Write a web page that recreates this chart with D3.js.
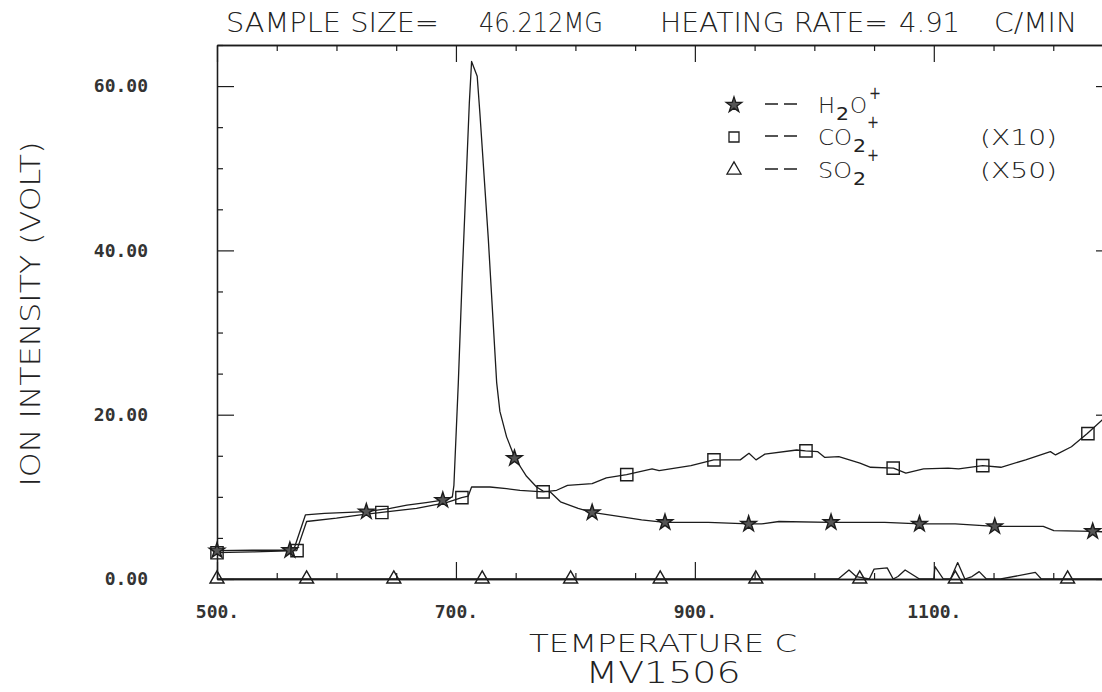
<!DOCTYPE html>
<html><head><meta charset="utf-8">
<script src="https://cdn.jsdelivr.net/npm/d3@7/dist/d3.min.js"></script>
<style>
body{margin:0;background:#fff;}
svg{display:block;background:#fff;}
</style></head><body>
<svg id="chart" width="1102" height="692"></svg>
<script>
// ---- data ----
const h2oTemp = [500,530,561,565,574,590,610,625,645,659,675,689,697,698.3,702,705.3,709,711.2,713.1,717.8,720.1,727.1,734.1,736.8,742.4,749.4,759.1,767.5,773,779,787.5,802.3,814,837.7,855.4,874.6,911.4,944.8,955.7,970.4,1013.7,1058.9,1088.4,1117.9,1151.2,1191.6,1200.5,1233,1250];
const h2oVal  = [3.45,3.5,3.5,3.9,7.8,8.0,8.1,8.2,8.6,9.0,9.3,9.6,10.0,11.4,23.9,37.0,50.1,57.9,63.0,61.2,56.6,41.4,23.9,20.4,17.3,14.7,12.5,11.2,10.7,10.6,9.4,8.6,8.1,7.6,7.2,6.9,6.9,6.7,6.7,7.0,6.9,6.9,6.7,6.7,6.4,6.4,5.9,5.8,5.7];

const co2Temp = [500,530,566.7,575,600,620,637.8,667,692,704.8,710.3,713.1,728.5,742.4,753.6,773.1,784.3,793.4,814,825.9,842.9,864.2,870.1,896.7,915.8,938,945.3,951.2,958.6,985.2,992.6,1002.9,1008.8,1020.5,1038.2,1047.1,1066.3,1076.6,1091.4,1112,1120.8,1140.9,1156.2,1176.9,1197.6,1201.9,1215.2,1228.5,1241.2,1250];
const co2Val  = [3.2,3.3,3.45,7.0,7.4,7.8,8.1,8.6,9.3,9.9,10.1,11.2,11.2,11.0,10.8,10.6,10.8,11.4,11.6,12.3,12.7,13.4,13.2,13.8,14.5,14.5,15.3,14.5,15.2,15.7,15.6,15.5,14.8,14.9,14.1,13.6,13.5,12.9,13.4,13.5,13.4,13.8,13.6,14.5,15.5,15.1,16.1,17.7,19.4,20.8];

const so2Temp = [500,1020,1029,1035,1046,1050,1061,1066,1070,1076,1088,1100,1101,1108,1114,1120,1126,1132,1138,1144,1156,1185,1190,1250];
const so2Val  = [0,0,1.1,0.3,0,1.2,1.35,0,0.3,1.1,0,0,1.5,0,0,2.0,0,0.3,0.9,0,0,0.8,0,0];

const h2oMarkTemp = [500,561,625,689,749,814,875,945,1014,1088,1151,1233];
const h2oMarkVal  = [3.45,3.5,8.2,9.6,14.7,8.1,6.9,6.7,6.9,6.7,6.4,5.8];
const co2MarkTemp = [500,567,638,705,773,843,916,993,1066,1141,1229];
const co2MarkVal  = [3.2,3.45,8.1,9.9,10.6,12.7,14.5,15.6,13.5,13.8,17.7];
const so2MarkTemp = [500,575,648,722,796,871,951,1038,1118,1212];
const so2MarkVal  = [0,0,0,0,0,0,0,0,0,0];

const xMajorTicks = [500,700,900,1100];
const xLabels = ["500.","700.","900.","1100."];
const yMajorTicks = [0,20,40,60];
const yLabels = ["0.00","20.00","40.00","60.00"];

// ---- layout ----
const ink = "#1c1c1c";
const thinFont = "'DejaVu Sans', 'DejaVu Sans Mono', sans-serif";
const svg = d3.select("#chart");
const x = d3.scaleLinear().domain([500,1250]).range([217,1113]);
const y = d3.scaleLinear().domain([0,65]).range([579,45]);
const xMinor = d3.range(500,1251,50).filter(v => !xMajorTicks.includes(v));
const yMinor = d3.range(0,66,5).filter(v => !yMajorTicks.includes(v));

function styleAxis(g){
  g.selectAll("path.domain").attr("stroke",ink).attr("stroke-width",1.3);
  g.selectAll(".tick line").attr("stroke",ink).attr("stroke-width",1.2);
}
svg.append("g").attr("transform",`translate(0,${y(0)})`)
  .call(d3.axisTop(x).tickValues(xMajorTicks).tickSize(17).tickFormat("").tickSizeOuter(0)).call(styleAxis);
svg.append("g").attr("transform",`translate(0,${y(0)})`)
  .call(d3.axisTop(x).tickValues(xMinor).tickSize(6).tickFormat("").tickSizeOuter(0)).call(styleAxis);
svg.append("g").attr("transform",`translate(0,${y(65)})`)
  .call(d3.axisBottom(x).tickValues(xMajorTicks).tickSize(17).tickFormat("").tickSizeOuter(0)).call(styleAxis);
svg.append("g").attr("transform",`translate(0,${y(65)})`)
  .call(d3.axisBottom(x).tickValues(xMinor).tickSize(6).tickFormat("").tickSizeOuter(0)).call(styleAxis);
svg.append("g").attr("transform",`translate(${x(500)},0)`)
  .call(d3.axisRight(y).tickValues(yMajorTicks).tickSize(17).tickFormat("").tickSizeOuter(0)).call(styleAxis);
svg.append("g").attr("transform",`translate(${x(500)},0)`)
  .call(d3.axisRight(y).tickValues(yMinor).tickSize(6).tickFormat("").tickSizeOuter(0)).call(styleAxis);
svg.append("g").attr("transform",`translate(${x(1250)},0)`)
  .call(d3.axisLeft(y).tickValues(yMajorTicks).tickSize(17).tickFormat("").tickSizeOuter(0)).call(styleAxis);
svg.append("g").attr("transform",`translate(${x(1250)},0)`)
  .call(d3.axisLeft(y).tickValues(yMinor).tickSize(6).tickFormat("").tickSizeOuter(0)).call(styleAxis);

// tick labels
const xl = svg.append("g").attr("transform",`translate(0,${y(0)})`)
  .call(d3.axisBottom(x).tickValues(xMajorTicks).tickSize(0).tickPadding(26)
    .tickFormat((d,i)=>xLabels[i]));
xl.select("path.domain").remove();
xl.selectAll("text").attr("font-family","DejaVu Sans Mono").attr("font-weight","bold")
  .attr("font-size",18).attr("fill","#333");
const yl = svg.append("g").attr("transform",`translate(${x(500)},0)`)
  .call(d3.axisLeft(y).tickValues(yMajorTicks).tickSize(0).tickPadding(69)
    .tickFormat((d,i)=>yLabels[i]));
yl.select("path.domain").remove();
yl.selectAll("text").attr("font-family","DejaVu Sans Mono").attr("font-weight","bold")
  .attr("font-size",18).attr("fill","#333");

// series lines
svg.append("clipPath").attr("id","pc").append("rect")
  .attr("x",x(500)).attr("y",y(65)).attr("width",x(1250)-x(500)).attr("height",y(0)-y(65));
const line = d3.line().x(d=>x(d[0])).y(d=>y(d[1]));
const plot = svg.append("g").attr("clip-path","url(#pc)");
[[h2oTemp,h2oVal],[co2Temp,co2Val],[so2Temp,so2Val]].forEach(([t,v])=>{
  plot.append("path").datum(t.map((tt,i)=>[tt,v[i]]))
    .attr("d",line).attr("fill","none").attr("stroke",ink).attr("stroke-width",1.3)
    .attr("stroke-linejoin","round");
});

// markers
const star = d3.symbol().type(d3.symbolStar).size(75);
const square = d3.symbol().type(d3.symbolSquare).size(150);
const tri = d3.symbol().type(d3.symbolTriangle).size(85);
function marks(ts,vs,sym,fill){
  svg.append("g").selectAll("path").data(ts.map((t,i)=>[t,vs[i]])).join("path")
    .attr("d",sym).attr("transform",d=>`translate(${x(d[0])},${y(d[1])})`)
    .attr("fill",fill).attr("stroke",ink).attr("stroke-width",1.4);
}
marks(h2oMarkTemp,h2oMarkVal,star,"#555");
marks(co2MarkTemp,co2MarkVal,square,"none");
marks(so2MarkTemp,so2MarkVal,tri,"none");

// ---- texts ----
const txt = (s,xx,yy,fs,len,anchor,wt)=>{
  const t = svg.append("text").attr("x",xx).attr("y",yy).attr("font-family",thinFont)
    .attr("font-weight",wt||200).attr("font-size",fs).attr("fill","#222")
    .attr("text-anchor",anchor||"start").text(s);
  if(len) t.attr("textLength",len).attr("lengthAdjust","spacingAndGlyphs");
  return t;
};
txt("SAMPLE SIZE=",226,32,26,213);
txt("46.212MG",479,32,26,124);
txt("HEATING RATE=",660,32,26,228);
txt("4.91",899,32,26,61);
txt("C/MIN",994,32,26,83);

svg.append("text").attr("transform","translate(40,314) rotate(-90)")
  .attr("font-family",thinFont).attr("font-weight",200).attr("font-size",27).attr("fill","#222")
  .attr("text-anchor","middle").attr("textLength",345).attr("lengthAdjust","spacingAndGlyphs")
  .text("ION INTENSITY (VOLT)");

txt("TEMPERATURE C",663,652,25,268,"middle");
txt("MV1506",663,683,30,155,"middle");

// legend
const legRows = [
  {sym:star, fill:"#555", yy:105, base:113, main:"H", sub:"2", tail:"O", note:""},
  {sym:d3.symbol().type(d3.symbolSquare).size(100), fill:"none", yy:137, base:145, main:"CO", sub:"2", tail:"", note:"(X10)"},
  {sym:tri, fill:"none", yy:170, base:178, main:"SO", sub:"2", tail:"", note:"(X50)"}
];
const leg = svg.append("g");
legRows.forEach(r=>{
  leg.append("path").attr("d", r.sym())
    .attr("transform",`translate(734,${r.yy})`).attr("fill",r.fill).attr("stroke",ink).attr("stroke-width",1.3);
  leg.append("line").attr("x1",765).attr("x2",797).attr("y1",r.yy-1).attr("y2",r.yy-1)
    .attr("stroke",ink).attr("stroke-width",1.3).attr("stroke-dasharray","13,6");
  const mainW = r.main.length*17;
  txt(r.main,818,r.base,22,mainW);
  txt(r.sub,818+mainW+1,r.base+7,17,13,"start",400);
  let xe = 818+mainW+15;
  if(r.tail){ txt(r.tail,xe,r.base,22,17); xe += 19; }
  txt("+",xe,r.base-(r.tail?14:17),17,12,"start",400);
  if(r.note) txt(r.note,980,r.base,22,77);
});
</script>
</body></html>
